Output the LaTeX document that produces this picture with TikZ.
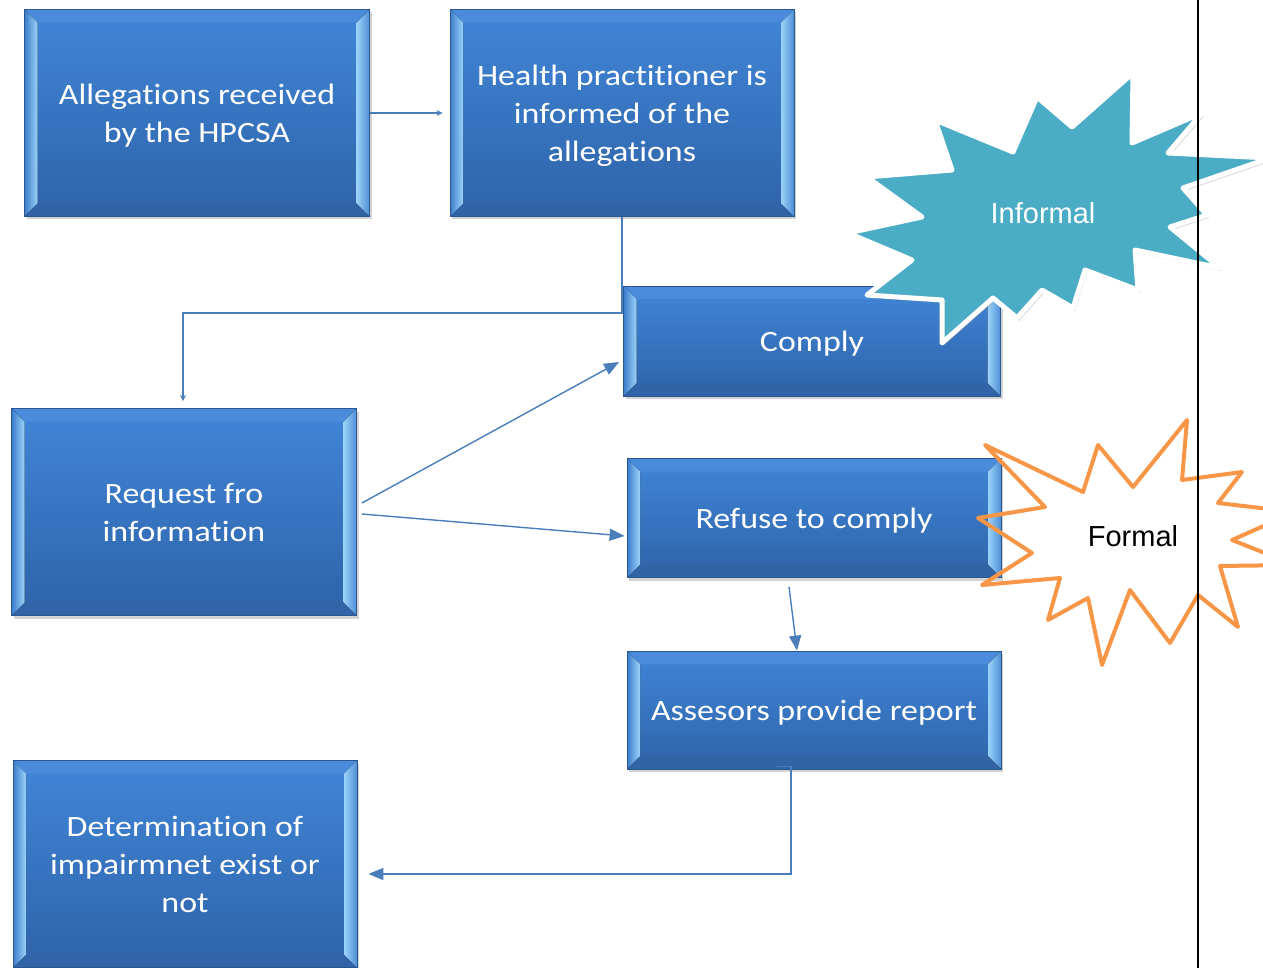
\documentclass[tikz,border=0pt]{standalone}
\usepackage{fontspec}
\setmainfont{Carlito}
\newfontfamily\boxfamily[FakeStretch=1.15,Ligatures=CommonOff]{Carlito}
\newfontfamily\starfamily{Liberation Sans}
\usetikzlibrary{arrows.meta,calc,shadows}

\definecolor{boxtop}{HTML}{4186D8}
\definecolor{boxbot}{HTML}{2E63A8}
\definecolor{boxedge}{HTML}{2A5790}
\definecolor{bevlight}{HTML}{9AD3FA}
\definecolor{bevdark}{HTML}{3C7CCB}
\definecolor{bevtop}{HTML}{4A8CDB}
\definecolor{bevbot}{HTML}{3064A6}
\definecolor{flowblue}{HTML}{4A7EBB}
\definecolor{informalteal}{HTML}{4BACC6}
\definecolor{formalorange}{HTML}{F79646}

% box text, lowered a little
\newcommand\boxtext[1]{\raisebox{-3pt}[\height][\depth]{\begin{tabular}{@{}c@{}}#1\end{tabular}}}

\tikzset{
  bevelbox/.style={rectangle, draw=boxedge, line width=0.8pt,
    top color=boxtop, bottom color=boxbot, text=white,
    font=\boxfamily\fontsize{29.5}{38}\selectfont, inner sep=0pt,
    drop shadow={shadow xshift=2pt, shadow yshift=-3pt, opacity=0.35},
    path picture={
      % bevel: top, bottom, left, right
      \fill[bevtop] (path picture bounding box.north west) -- (path picture bounding box.north east)
        -- ([shift={(-13pt,-13pt)}]path picture bounding box.north east)
        -- ([shift={(13pt,-13pt)}]path picture bounding box.north west) -- cycle;
      \fill[bevbot] (path picture bounding box.south west) -- (path picture bounding box.south east)
        -- ([shift={(-13pt,13pt)}]path picture bounding box.south east)
        -- ([shift={(13pt,13pt)}]path picture bounding box.south west) -- cycle;
      \fill[left color=bevdark, right color=bevlight] (path picture bounding box.north west)
        -- (path picture bounding box.south west)
        -- ([shift={(13pt,13pt)}]path picture bounding box.south west)
        -- ([shift={(13pt,-13pt)}]path picture bounding box.north west) -- cycle;
      \fill[left color=bevlight, right color=bevdark!80!bevlight] (path picture bounding box.north east)
        -- (path picture bounding box.south east)
        -- ([shift={(-13pt,13pt)}]path picture bounding box.south east)
        -- ([shift={(-13pt,-13pt)}]path picture bounding box.north east) -- cycle;
    }},
  flow/.style={draw=flowblue, line width=1.4pt},
  smallhead/.style={flow, -{Stealth[length=6pt,width=6pt]}},
  bighead/.style={flow, -{Triangle[length=15pt,width=12pt]}},
  informalstar/.style={fill=informalteal, draw=white, line width=5pt, line join=round,
    drop shadow={shadow xshift=2pt, shadow yshift=-3pt, opacity=0.3}},
  formalstar/.style={draw=formalorange, line width=4pt, line join=round},
  starlabel/.style={font=\starfamily\fontsize{29}{34}\selectfont, inner sep=0pt}
}

\begin{document}
\begin{tikzpicture}[x=1pt,y=-1pt]
  \clip (0,0) rectangle (1263,968);

  % boxes
  \node[bevelbox, minimum width=345pt, minimum height=207pt] (allegations) at (197,113)
    {\boxtext{Allegations received\\by the HPCSA}};
  \node[bevelbox, minimum width=344pt, minimum height=207pt] (informed) at (622,113)
    {\boxtext{Health practitioner is\\informed of the\\allegations}};
  \node[bevelbox, minimum width=377pt, minimum height=110pt] (comply) at (812,341) {\boxtext{Comply}};
  \node[bevelbox, minimum width=345pt, minimum height=207pt] (request) at (184,512)
    {\boxtext{Request fro\\information}};
  \node[bevelbox, minimum width=374pt, minimum height=119pt] (refuse) at (814,518)
    {\boxtext{Refuse to comply}};
  \node[bevelbox, minimum width=374pt, minimum height=118pt] (report) at (814,710)
    {\boxtext{Assesors provide report}};
  \node[bevelbox, minimum width=344pt, minimum height=207pt] (determination) at (185,864)
    {\boxtext{Determination of\\impairmnet exist or\\not}};

  % connectors
  \draw[smallhead] (allegations.east) -- ($(informed.west)+(-7,0)$);
  \draw[smallhead] (informed.south) -- ++(0,96) -| ($(request.north)+(-1,-7)$);
  \draw[bighead] ($(request.east)+(5,-9)$) -- ($(comply.west)+(-4,21)$);
  \draw[bighead] ($(request.east)+(5,2)$) -- ($(refuse.west)+(-2,18)$);
  \draw[bighead] ($(refuse.south)+(-25,9)$) -- ($(report.north)+(-17,0)$);
  \draw[bighead] ($(report.south)+(-37,-3)$) -- ++(14,0) |- ($(determination.east)+(11,10)$);

  % stars
  \draw[informalstar] (1133,73) -- (1132,143) -- (1202,113) -- (1168,153) -- (1270,158)
    -- (1183,188) -- (1207,215) -- (1170,227) -- (1220,268) -- (1135,250) -- (1138,290)
    -- (1085,270) -- (1073,308) -- (1042,290) -- (1017,318) -- (993,298) -- (942,343)
    -- (942,300) -- (867,295) -- (912,260) -- (848,233) -- (922,217) -- (867,177)
    -- (952,170) -- (935,120) -- (1013,152) -- (1037,97) -- (1072,127) -- cycle;
  \node[starlabel, text=white] (informal) at (1043,213) {Informal};

  \draw[formalstar] (985,445) -- (1083,492) -- (1098,445) -- (1133,487) -- (1187,420)
    -- (1182,480) -- (1242,472) -- (1218,503) -- (1295,512) -- (1232,540) -- (1295,565)
    -- (1220,566) -- (1238,627) -- (1198,595) -- (1170,643) -- (1130,590) -- (1102,665)
    -- (1088,598) -- (1048,620) -- (1060,578) -- (982,585) -- (1032,553) -- (978,518)
    -- (1045,507) -- cycle;
  \node[starlabel, text=black] (formal) at (1133,536) {Formal};

  % page edge line
  \draw[black, line width=1.8pt] (1198,0) -- (1198,968);
\end{tikzpicture}
\end{document}
